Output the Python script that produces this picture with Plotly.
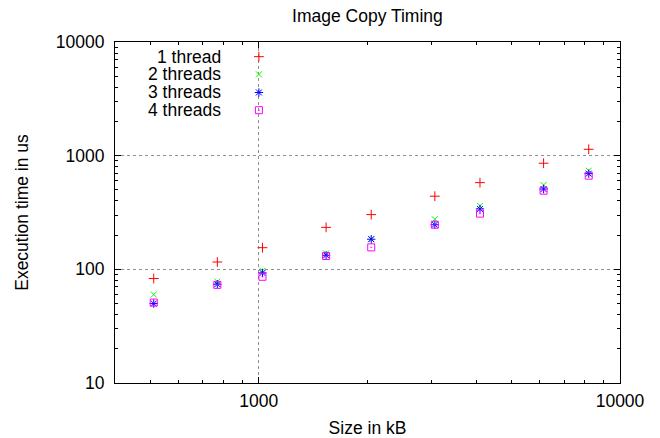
import plotly.graph_objects as go

sizes_kb = [512, 768, 1024, 1536, 2048, 3072, 4096, 6144, 8192]
t_1 = [83, 116, 155, 234, 303, 440, 579, 858, 1138]
t_2 = [60, 78, 97, 138, 185, 276, 361, 552, 738]
t_3 = [50, 74, 93, 133, 184, 247, 340, 509, 695]
t_4 = [51, 73, 86, 131, 156, 247, 309, 492, 667]
names = ["1 thread", "2 threads", "3 threads", "4 threads"]
x_ticks = [1000, 10000]
y_ticks = [10, 100, 1000, 10000]

colors = ["#ff0000", "#00ff00", "#0000ff", "#ff00ff"]
symbols = ["cross-thin-open", "x-thin-open", "asterisk-open", "square-open-dot"]
sizes = [7, 6, 7, 7]

FONT = "Liberation Sans, Arial, Helvetica, sans-serif"
FS = 17.5

fig = go.Figure()
series = [t_1, t_2, t_3, t_4]
for i, ys in enumerate(series):
    fig.add_trace(go.Scatter(
        x=sizes_kb, y=ys, mode="markers", name=names[i], showlegend=False,
        marker=dict(symbol=symbols[i], size=sizes[i], color=colors[i],
                    line=dict(width=1, color=colors[i])),
        cliponaxis=False,
    ))

# manual gnuplot-style key (text left, symbol right) on an overlay axis
key_y = [0.957, 0.905, 0.852, 0.800]
for i in range(4):
    fig.add_trace(go.Scatter(
        x=[0.285], y=[key_y[i]], xaxis="x2", yaxis="y2", mode="markers",
        showlegend=False, hoverinfo="skip",
        marker=dict(symbol=symbols[i], size=sizes[i], color=colors[i],
                    line=dict(width=1, color=colors[i])),
    ))
    fig.add_annotation(xref="paper", yref="paper", x=0.2127, y=key_y[i],
                       text=names[i], showarrow=False, xanchor="right",
                       yanchor="middle", height=16, borderpad=0,
                       font=dict(size=FS, color="#000", family=FONT))

# opaque key box hiding grid behind it
fig.add_shape(type="rect", xref="paper", yref="paper", x0=0.02, x1=0.33,
              y0=0.771, y1=0.997, fillcolor="white", line=dict(width=0),
              layer="between")

minor_x = [500, 600, 700, 800, 900, 2000, 3000, 4000, 5000, 6000, 7000, 8000, 9000]
minor_y = [m * d for d in (10, 100, 1000) for m in range(2, 10)]

axis_common = dict(
    showline=True, linecolor="black", linewidth=1, mirror="ticks",
    ticks="inside", ticklen=6, tickcolor="black", tickwidth=1,
    showgrid=True, gridcolor="#909090", griddash="dot", gridwidth=1,
    zeroline=False, tickfont=dict(size=FS, color="#000", family=FONT),
    tickmode="array", automargin=False,
)

fig.update_layout(
    width=660, height=438,
    margin=dict(l=114.5, r=40, t=42, b=55),
    paper_bgcolor="white", plot_bgcolor="white",
    font=dict(family=FONT, color="#000", size=FS),
    title=dict(text="Image Copy Timing", x=0.5567, xanchor="center",
               y=0.963, yanchor="middle", font=dict(size=FS, family=FONT, color="#000")),
    xaxis=dict(type="log", range=[2.60206, 4], tickvals=x_ticks,
               ticktext=[str(v) for v in x_ticks],
               ticklabelstandoff=2,
               minor=dict(tickvals=minor_x, ticks="inside", ticklen=3,
                          tickcolor="black", showgrid=False),
               title=dict(text="Size in kB", font=dict(size=FS, family=FONT), standoff=14),
               **axis_common),
    yaxis=dict(type="log", range=[1, 4], tickvals=y_ticks,
               ticktext=[str(v) for v in y_ticks],
               ticklabelstandoff=6,
               minor=dict(tickvals=minor_y, ticks="inside", ticklen=3,
                          tickcolor="black", showgrid=False),
               title=dict(text="Execution time in us", font=dict(size=FS, family=FONT), standoff=22),
               **axis_common),
    xaxis2=dict(overlaying="x", range=[0, 1], visible=False, fixedrange=True),
    yaxis2=dict(overlaying="y", range=[0, 1], visible=False, fixedrange=True),
    showlegend=False,
)

fig.write_html("out.html")
